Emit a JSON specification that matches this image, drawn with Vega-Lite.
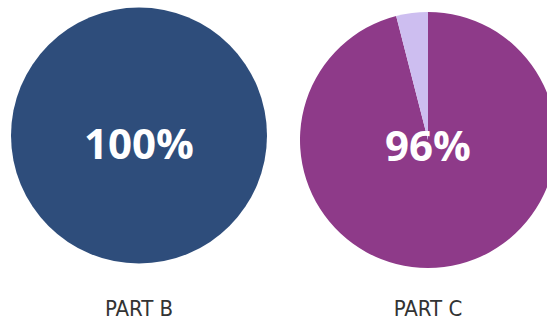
{
  "$schema": "https://vega.github.io/schema/vega-lite/v6.json",
  "padding": 0,
  "background": "white",
  "spacing": 10,
  "config": {
    "view": {"stroke": null},
    "title": {"font": "DejaVu Sans Condensed, Liberation Sans Narrow, sans-serif", "fontSize": 22, "fontWeight": "normal", "color": "#333333", "baseline": "alphabetic", "orient": "bottom"}
  },
  "resolve": {"scale": {"color": "independent"}},
  "hconcat": [
    {
      "width": 278,
      "height": 271,
      "title": {"text": "PART B", "orient": "bottom", "offset": 28},
      "layer": [
        {
          "data": {"values": [{"slice": "Part B yes", "value": 100, "order": 1}]},
          "mark": {"type": "arc", "outerRadius": 128},
          "encoding": {
            "theta": {"field": "value", "type": "quantitative", "stack": true},
            "order": {"field": "order"},
            "color": {"field": "slice", "type": "nominal", "scale": {"domain": ["Part B yes"], "range": ["#2E4D7B"]}, "legend": null}
          }
        },
        {
          "data": {"values": [{"label": "100%"}]},
          "mark": {"type": "text", "font": "Open Sans", "fontWeight": "bold", "fontSize": 42, "color": "white", "baseline": "alphabetic", "dy": 23},
          "encoding": {"text": {"field": "label"}}
        }
      ]
    },
    {
      "width": 280,
      "height": 280,
      "title": {"text": "PART C", "orient": "bottom", "offset": 19},
      "layer": [
        {
          "data": {"values": [{"slice": "Part C yes", "value": 96, "order": 1}, {"slice": "Part C no", "value": 4, "order": 2}]},
          "mark": {"type": "arc", "outerRadius": 128},
          "encoding": {
            "theta": {"field": "value", "type": "quantitative", "stack": true},
            "order": {"field": "order"},
            "color": {"field": "slice", "type": "nominal", "scale": {"domain": ["Part C yes", "Part C no"], "range": ["#8E3A89", "#CDBEF0"]}, "legend": null}
          }
        },
        {
          "data": {"values": [{"label": "96%"}]},
          "mark": {"type": "text", "font": "Open Sans", "fontWeight": "bold", "fontSize": 42, "color": "white", "baseline": "alphabetic", "dy": 21},
          "encoding": {"text": {"field": "label"}}
        }
      ]
    }
  ]
}
